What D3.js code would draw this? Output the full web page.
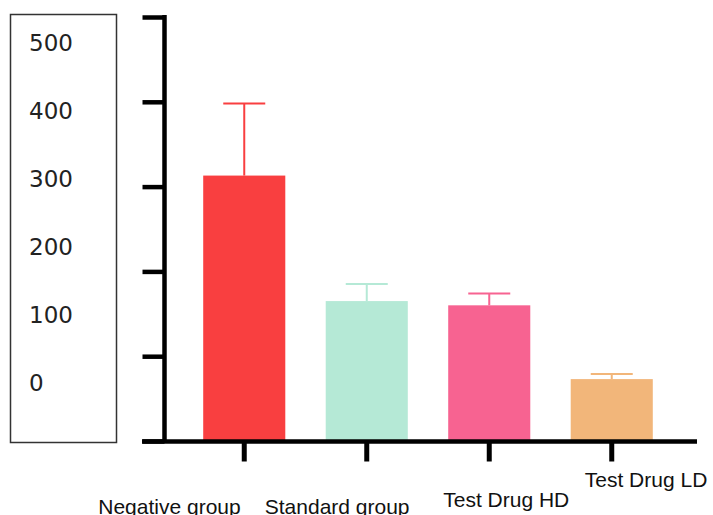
<!DOCTYPE html>
<html>
<head>
<meta charset="utf-8">
<script src="https://cdn.jsdelivr.net/npm/d3@7"></script>
<style>
  html, body { margin: 0; padding: 0; background: #fff; }
  svg { display: block; }
</style>
</head>
<body>
<svg id="chart" width="713" height="515"></svg>
<script>
// Group names, mean values and standard deviations
const groups = ["Negative group", "Standard group", "Test Drug HD", "Test Drug LD"];
const means = [313, 165, 160, 73];
const sds = [85, 20, 14, 6];
const colors = ["#f93f40", "#b5e9d6", "#f76391", "#f2b67a"];
const tickValues = [0, 100, 200, 300, 400, 500];
const tickLabels = ["0", "100", "200", "300", "400", "500"];

// Horizontal offsets of the group labels relative to each band's centre
const labelOffsets = [-146, -102, -46, -27];
const labelBaselines = [514, 514, 507, 487];

const svg = d3.select("#chart");

const y = d3.scaleLinear().domain([0, 500]).range([441, 17]);
const x = d3.scaleBand()
  .domain(groups)
  .range([183, 673])
  .paddingInner(0.33)
  .paddingOuter(0.165);

// Framed box holding the value labels
svg.append("rect")
  .attr("x", 10.5).attr("y", 14.5)
  .attr("width", 106).attr("height", 428)
  .attr("fill", "none")
  .attr("stroke", "#333")
  .attr("stroke-width", 1.5);

const labelY = d3.scaleLinear().domain([0, 500]).range([391, 51]);
svg.append("g")
  .selectAll("text")
  .data(tickValues)
  .join("text")
  .attr("x", 29)
  .attr("y", d => labelY(d))
  .attr("font-family", "'DejaVu Sans', Verdana, sans-serif")
  .attr("font-size", 23)
  .attr("fill", "#222")
  .text((d, i) => tickLabels[i]);

// Bars
svg.append("g")
  .selectAll("rect")
  .data(groups)
  .join("rect")
  .attr("x", d => x(d))
  .attr("y", (d, i) => y(means[i]))
  .attr("width", x.bandwidth())
  .attr("height", (d, i) => y(0) - y(means[i]))
  .attr("fill", (d, i) => colors[i]);

// Error bars (upper whisker with cap)
const err = svg.append("g");
groups.forEach((g, i) => {
  const cx = x(g) + x.bandwidth() / 2;
  err.append("line")
    .attr("x1", cx).attr("x2", cx)
    .attr("y1", y(means[i])).attr("y2", y(means[i] + sds[i]))
    .attr("stroke", colors[i]).attr("stroke-width", 2);
  err.append("line")
    .attr("x1", cx - 21).attr("x2", cx + 21)
    .attr("y1", y(means[i] + sds[i])).attr("y2", y(means[i] + sds[i]))
    .attr("stroke", colors[i]).attr("stroke-width", 2);
});

// Y axis with unlabeled ticks
const yAxis = svg.append("g")
  .attr("transform", "translate(164.5,0)")
  .call(d3.axisLeft(y).tickValues(tickValues).tickSize(22).tickSizeOuter(0).tickFormat(""));
yAxis.select(".domain").remove();
yAxis.selectAll(".tick line").attr("stroke", "#000").attr("stroke-width", 4.5);
svg.append("line")
  .attr("x1", 164.5).attr("x2", 164.5)
  .attr("y1", 15).attr("y2", 443)
  .attr("stroke", "#000").attr("stroke-width", 4.5);

// X axis
const xAxis = svg.append("g")
  .attr("transform", "translate(0,441.5)")
  .call(d3.axisBottom(x).tickSize(20).tickSizeOuter(0).tickFormat(""));
xAxis.select(".domain").remove();
xAxis.selectAll(".tick line").attr("stroke", "#000").attr("stroke-width", 5);
svg.append("line")
  .attr("x1", 142).attr("x2", 697)
  .attr("y1", 441.5).attr("y2", 441.5)
  .attr("stroke", "#000").attr("stroke-width", 4.5);

// Group labels
svg.append("g")
  .selectAll("text")
  .data(groups)
  .join("text")
  .attr("x", (d, i) => x(d) + x.bandwidth() / 2 + labelOffsets[i])
  .attr("y", (d, i) => labelBaselines[i])
  .attr("font-family", "'Liberation Sans', Arial, sans-serif")
  .attr("font-size", 21)
  .attr("fill", "#111")
  .text(d => d);
</script>
</body>
</html>
